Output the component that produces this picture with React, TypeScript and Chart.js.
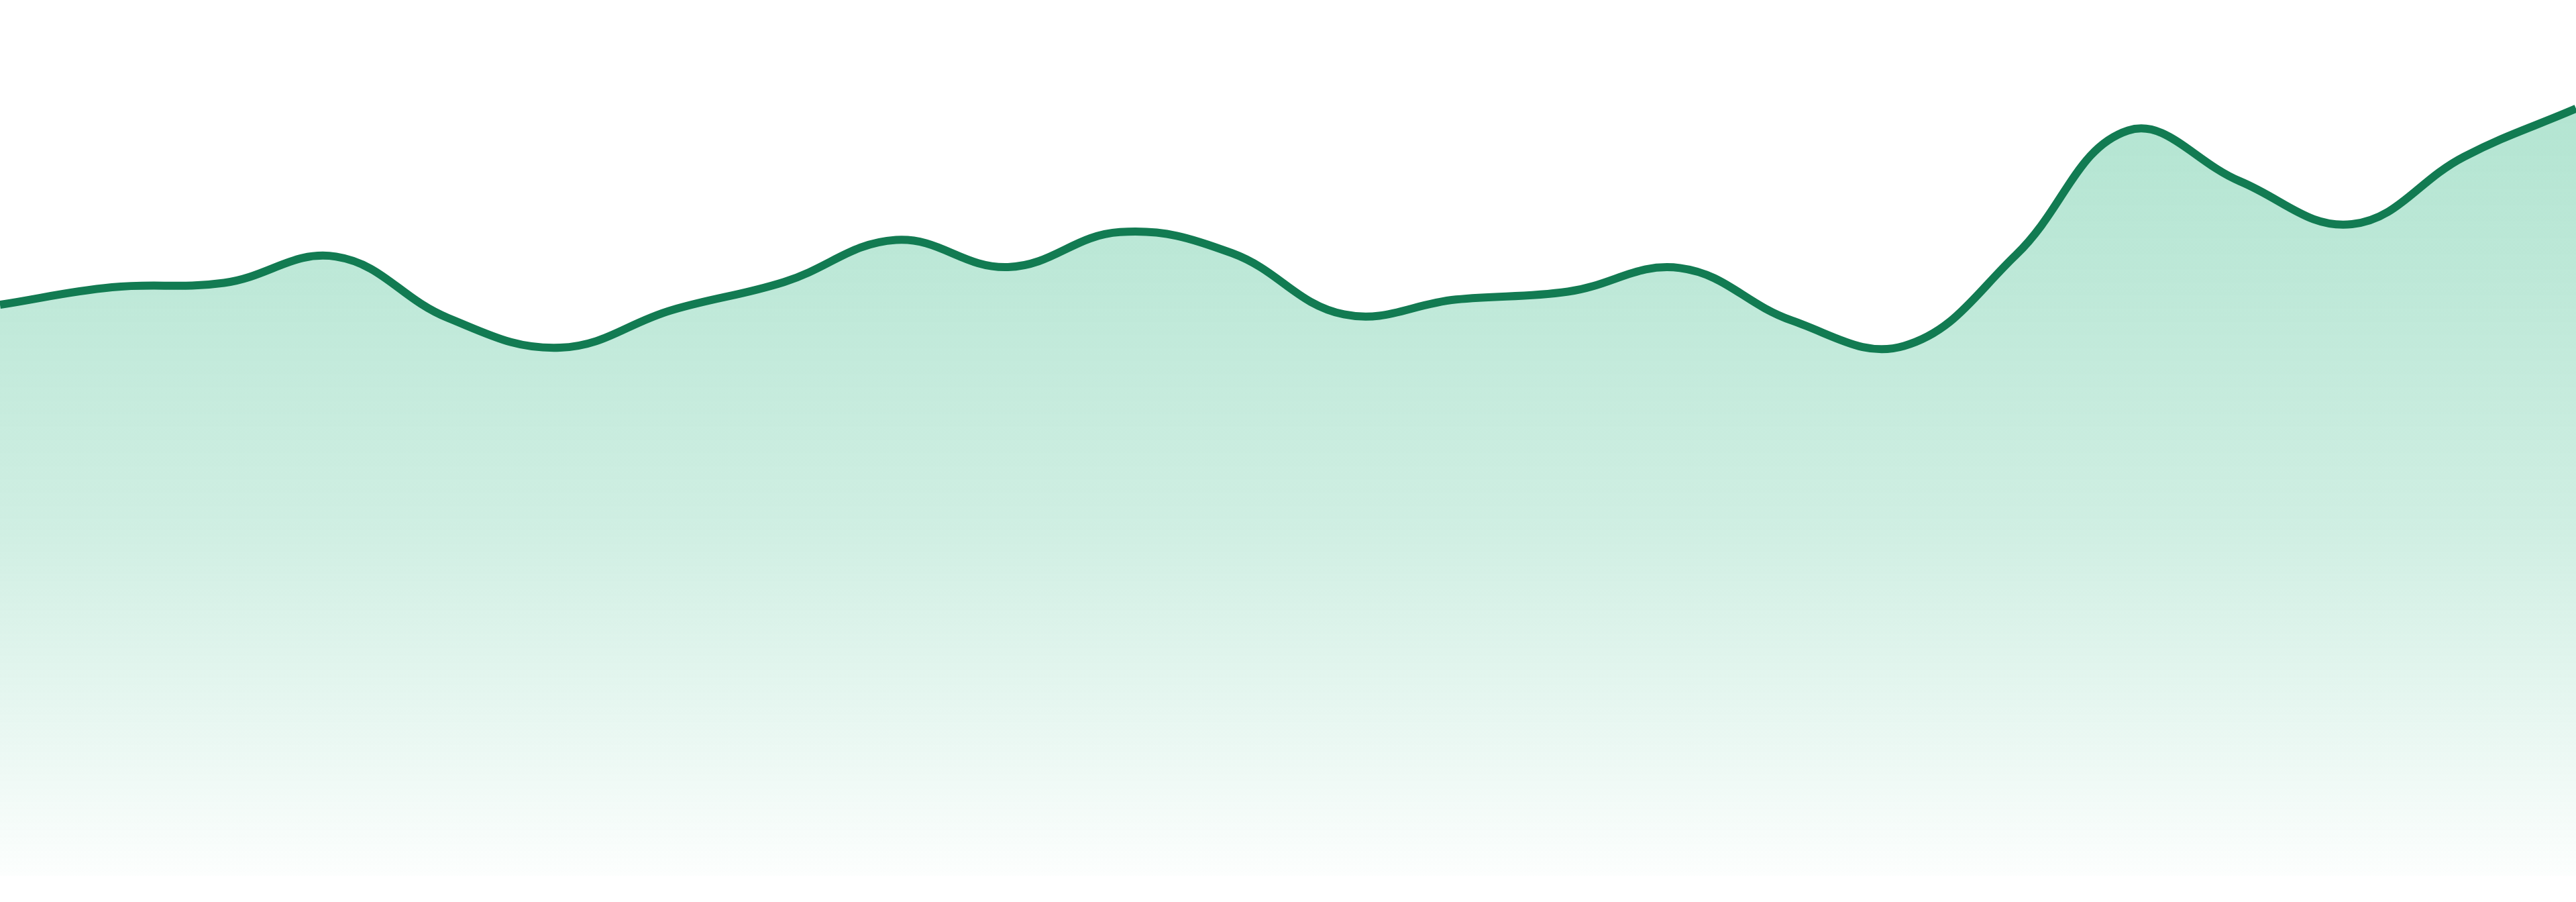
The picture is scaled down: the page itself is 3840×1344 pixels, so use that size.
import React, { useEffect, useRef } from "react";
import { Chart, registerables } from "chart.js";

Chart.register(...registerables);

const categories: string[] = [
  "1", "2", "3", "4", "5", "6", "7", "8", "9", "10", "11", "12",
  "13", "14", "15", "16", "17", "18", "19", "20", "21", "22", "23", "24",
];

const seriesValues: number[] = [
  65.2, 67.2, 67.7, 70.7, 63.7, 60.3, 64.6, 67.8, 72.6, 69.5, 73.5, 71.1,
  64.1, 65.8, 66.7, 69.4, 63.4, 60.5, 70.9, 85.1, 79.3, 74.4, 82.1, 87.6,
];

const yMin = 0;
const yMax = 100;

const LINE_COLOR = "#127b52";

export default function App() {
  const canvasRef = useRef<HTMLCanvasElement | null>(null);

  useEffect(() => {
    const canvas = canvasRef.current;
    if (!canvas) return;
    const chart = new Chart(canvas, {
      type: "line",
      data: {
        labels: categories,
        datasets: [
          {
            data: seriesValues,
            borderColor: LINE_COLOR,
            borderWidth: 12,
            tension: 0.4,
            pointRadius: 0,
            pointHoverRadius: 0,
            fill: "origin",
            backgroundColor: (ctx: any) => {
              const c = ctx.chart;
              const area = c.chartArea;
              if (!area) return "rgba(16,172,112,0.2)";
              const g = c.ctx.createLinearGradient(0, area.top, 0, area.bottom);
              g.addColorStop(0, "rgba(16,172,112,0.34)");
              g.addColorStop(0.3, "rgba(16,172,112,0.28)");
              g.addColorStop(0.6, "rgba(16,172,112,0.2)");
              g.addColorStop(0.88, "rgba(16,172,112,0.07)");
              g.addColorStop(1, "rgba(16,172,112,0.01)");
              return g;
            },
          },
        ],
      },
      options: {
        animation: false,
        responsive: false,
        devicePixelRatio: 1,
        layout: { padding: { top: 0, bottom: 39, left: 0, right: 0 } },
        plugins: {
          legend: { display: false },
          tooltip: { enabled: false },
        },
        scales: {
          x: { display: false, offset: false },
          y: { display: false, min: yMin, max: yMax },
        },
      },
    });
    return () => chart.destroy();
  }, []);

  return (
    <div style={{ position: "absolute", left: 0, top: 0, width: 3840, height: 1344, background: "#fff" }}>
      <canvas ref={canvasRef} width={3840} height={1344} style={{ display: "block", width: 3840, height: 1344 }} />
    </div>
  );
}
